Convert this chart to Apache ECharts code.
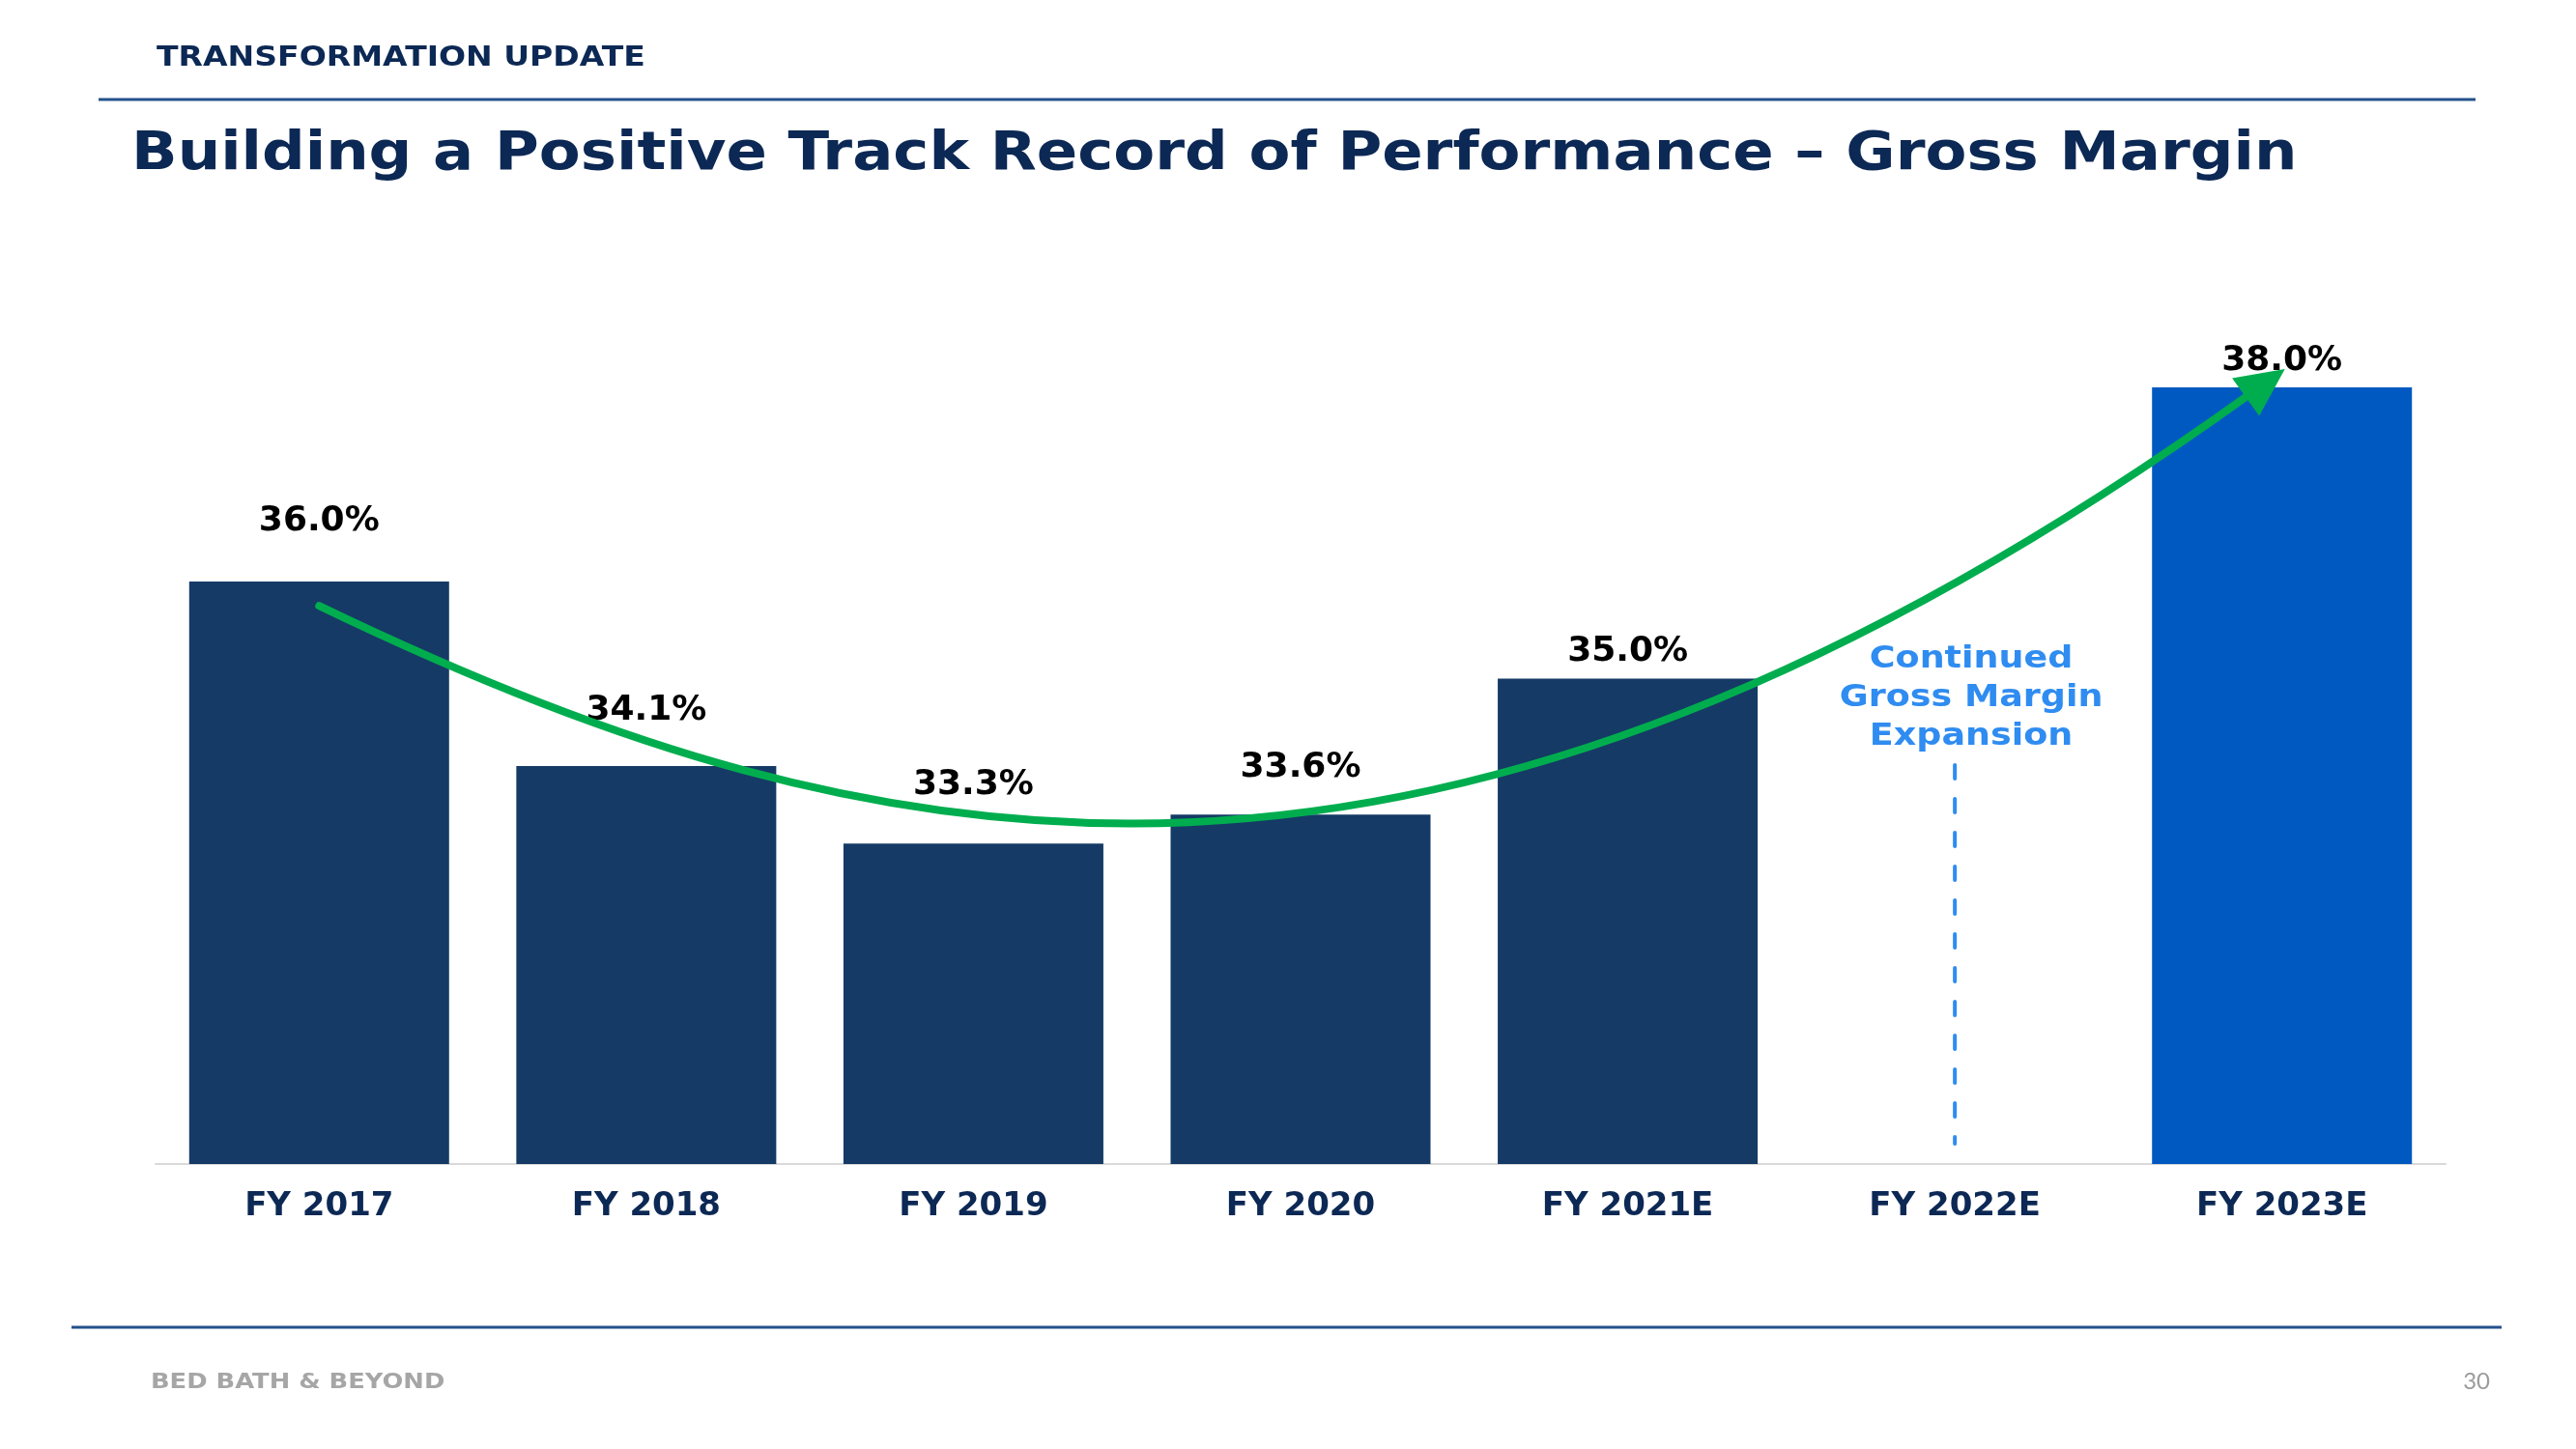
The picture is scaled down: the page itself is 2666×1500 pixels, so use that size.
<!DOCTYPE html>
<html>
<head>
<meta charset="utf-8">
<script src="https://cdn.jsdelivr.net/npm/echarts@6/dist/echarts.min.js"></script>
<style>
html,body{margin:0;padding:0;background:#ffffff;}
#chart{width:2666px;height:1500px;}
</style>
</head>
<body>
<div id="chart"></div>
<script>
// ---------- data ----------
const categories = ['FY 2017', 'FY 2018', 'FY 2019', 'FY 2020', 'FY 2021E', 'FY 2022E', 'FY 2023E'];
const grossMargin = [36.0, 34.1, 33.3, 33.6, 35.0, null, 38.0];
const valueLabels = ['36.0%', '34.1%', '33.3%', '33.6%', '35.0%', '', '38.0%'];
// trend arrow (cubic curve) in data coordinates: [category position, value]
const trendArrow = [[0.0, 35.75], [1.72, 32.95], [3.4, 31.88], [5.889, 37.90]];
const annotationLines = ['Continued', 'Gross Margin', 'Expansion'];
const annotationAnchor = [5.05, 34.80];
const annotationDash = [[5, 34.11], [5, 30.21]];

// ---------- styling ----------
const NAVY = '#153a66';
const BRIGHT = '#0059c1';
const TEXT_NAVY = '#0c2854';
const GREEN = '#00ad4e';
const LIGHT_BLUE = '#2f8cf0';
const RULE = '#24518b';
const FONT = '"DejaVu Sans", "Noto Sans", sans-serif';
const barColors = [NAVY, NAVY, NAVY, NAVY, NAVY, NAVY, BRIGHT];
const labelGap = [44, 39, 43, 31, 10, 0, 9];

const barData = grossMargin.map((v, i) => ({
  value: v,
  itemStyle: { color: barColors[i] },
  label: { distance: labelGap[i], formatter: valueLabels[i] }
}));

const chart = echarts.init(document.getElementById('chart'), null, { renderer: 'canvas' });

const option = {
  animation: false,
  backgroundColor: '#ffffff',
  grid: { left: 161, right: 135, top: 200, bottom: 295, containLabel: false },
  xAxis: [
    {
      type: 'category',
      data: categories,
      axisLine: { show: true, lineStyle: { color: '#d9d9d9', width: 2 } },
      axisTick: { show: false },
      axisLabel: {
        color: TEXT_NAVY, fontFamily: FONT, fontWeight: 'bold', fontSize: 34, margin: 27
      }
    },
    { type: 'value', min: -0.5, max: 6.5, show: false }
  ],
  yAxis: {
    type: 'value', min: 30, max: 40, show: false,
    splitLine: { show: false }
  },
  series: [
    {
      type: 'bar',
      xAxisIndex: 0,
      yAxisIndex: 0,
      barWidth: 269,
      data: barData,
      label: {
        show: true,
        position: 'top',
        color: '#000000',
        fontFamily: FONT,
        fontWeight: 'bold',
        fontSize: 36
      }
    }
  ]
};
chart.setOption(option);

// ---------- annotations anchored via the axes ----------
const toPx = p => [
  chart.convertToPixel({ xAxisIndex: 1 }, p[0]),
  chart.convertToPixel({ yAxisIndex: 0 }, p[1])
];
const [p0, c1, c2, p3] = trendArrow.map(toPx);
const dx = p3[0] - c2[0], dy = p3[1] - c2[1];
const len = Math.hypot(dx, dy);
const ux = dx / len, uy = dy / len;
const headLen = 50, headHalf = 24;
const tip = [p3[0] + ux * headLen, p3[1] + uy * headLen];
const b1 = [p3[0] - uy * headHalf, p3[1] + ux * headHalf];
const b2 = [p3[0] + uy * headHalf, p3[1] - ux * headHalf];
const endIn = [p3[0] + ux * 4, p3[1] + uy * 4];

const dashTop = toPx(annotationDash[0]);
const dashBot = toPx(annotationDash[1]);
const annPos = toPx(annotationAnchor);

chart.setOption({
  graphic: [
    { type: 'text', z: 100, x: 162, y: 60, scaleX: 1.14,
      style: { text: 'TRANSFORMATION UPDATE', fill: TEXT_NAVY, font: 'bold 29px ' + FONT, align: 'left', verticalAlign: 'middle' } },
    { type: 'line', z: 100, shape: { x1: 102, y1: 103, x2: 2562, y2: 103 },
      style: { stroke: RULE, lineWidth: 3 } },
    { type: 'text', z: 100, x: 136, y: 160, scaleX: 1.116,
      style: { text: 'Building a Positive Track Record of Performance \u2013 Gross Margin', fill: TEXT_NAVY, font: 'bold 56px ' + FONT, align: 'left', verticalAlign: 'middle' } },
    { type: 'line', z: 100, shape: { x1: 74, y1: 1374, x2: 2589, y2: 1374 },
      style: { stroke: RULE, lineWidth: 3 } },
    { type: 'text', z: 100, x: 156, y: 1431, scaleX: 1.17,
      style: { text: 'BED BATH & BEYOND', fill: '#a6a6a6', font: 'bold 22px ' + FONT, align: 'left', verticalAlign: 'middle' } },
    { type: 'text', z: 100, x: 2577, y: 1430,
      style: { text: '30', fill: '#9b9b9b', font: '24px Lato, "Open Sans", sans-serif', align: 'right', verticalAlign: 'middle' } },
    // trend arrow
    { type: 'bezierCurve', z: 100,
      shape: { x1: p0[0], y1: p0[1], cpx1: c1[0], cpy1: c1[1], cpx2: c2[0], cpy2: c2[1], x2: endIn[0], y2: endIn[1] },
      style: { stroke: GREEN, lineWidth: 8, fill: null, lineCap: 'round' } },
    { type: 'polygon', z: 101,
      shape: { points: [tip, b1, b2] },
      style: { fill: GREEN, stroke: null } },
    // dashed guide under annotation
    { type: 'line', z: 100,
      shape: { x1: dashTop[0], y1: dashTop[1], x2: dashBot[0], y2: dashBot[1] },
      style: { stroke: LIGHT_BLUE, lineWidth: 4, lineDash: [14, 21], lineCap: 'round' } },
    { type: 'text', z: 100, x: annPos[0], y: annPos[1], scaleX: 1.14,
      style: { text: annotationLines.join('\n'), fill: LIGHT_BLUE, font: 'bold 32px ' + FONT, lineHeight: 40, align: 'center', verticalAlign: 'middle' } }
  ]
});
</script>
</body>
</html>
